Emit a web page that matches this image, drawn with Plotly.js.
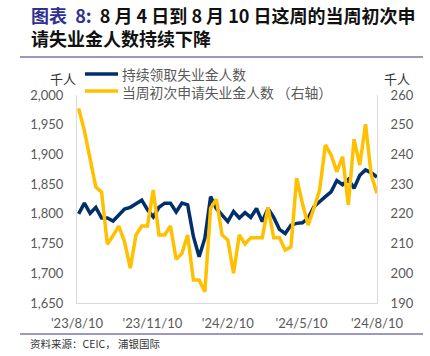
<!DOCTYPE html>
<html>
<head>
<meta charset="utf-8">
<script src="https://cdn.plot.ly/plotly-3.0.1.min.js"></script>
<style>
  html, body { margin: 0; padding: 0; background: #fff; }
  #chart { width: 430px; height: 356px; }
</style>
</head>
<body>
<div id="chart"></div>
<script>
// Week-ending dates
const dates = [
  '2023-08-12','2023-08-19','2023-08-26','2023-09-02','2023-09-09','2023-09-16','2023-09-23','2023-09-30',
  '2023-10-07','2023-10-14','2023-10-21','2023-10-28','2023-11-04','2023-11-11','2023-11-18','2023-11-25',
  '2023-12-02','2023-12-09','2023-12-16','2023-12-23','2023-12-30','2024-01-06','2024-01-13','2024-01-20',
  '2024-01-27','2024-02-03','2024-02-10','2024-02-17','2024-02-24','2024-03-02','2024-03-09','2024-03-16',
  '2024-03-23','2024-03-30','2024-04-06','2024-04-13','2024-04-20','2024-04-27','2024-05-04','2024-05-11',
  '2024-05-18','2024-05-25','2024-06-01','2024-06-08','2024-06-15','2024-06-22','2024-06-29','2024-07-06',
  '2024-07-13','2024-07-20','2024-07-27','2024-08-03','2024-08-10'
];

// 持续领取失业金人数 (千人, left axis)
const continuingClaims = [
  1800, 1818, 1801, 1811, 1793, 1793, 1788, 1798, 1808, 1811,
  1817, 1823, 1807, 1795, 1811, 1818, 1818, 1803, 1818, 1815,
  1762, 1728, 1759, 1829, 1809, 1798, 1787, 1804, 1793, 1802,
  1794, 1809, 1787, 1809, 1794, 1774, 1767, 1781, 1784, 1785,
  1793, 1812, 1821, 1829, 1837, 1856, 1849, 1858, 1843, 1865,
  1874, 1869, 1862
];

// 当周初次申请失业金人数 (千人, right axis)
const initialClaims = [
  255.5, 248, 238.5, 229, 227.3, 209.8, 212.7, 215.9, 210.6, 201.7,
  212.9, 215.9, 215.9, 228, 212.9, 212.9, 215.9, 204.7, 206.7, 212.9,
  197.7, 197.7, 193.8, 221.9, 224.9, 212.9, 211.2, 200, 212.9, 209.8,
  212, 212, 212, 222.2, 212, 212, 207.8, 208.9, 232, 223.5,
  216.2, 221.9, 228, 243.2, 239.8, 234.2, 239.2, 223, 245.1, 236.4,
  250.2, 233.1, 226.9
];

const xTickVals = ['2023-08-10','2023-11-10','2024-02-10','2024-05-10','2024-08-10'];
const xTickText = ["'23/8/10","'23/11/10","'24/2/10","'24/5/10","'24/8/10"];
const leftTicks = [1650, 1700, 1750, 1800, 1850, 1900, 1950, 2000];
const rightTicks = [190, 200, 210, 220, 230, 240, 250, 260];

const seriesNames = ['持续领取失业金人数', '当周初次申请失业金人数（右轴）'];
const BLUE = '#002F6C';
const YELLOW = '#FFC000';

// plot area in pixels
const L = 77, T = 95, W = 300, H = 208;
const px = x => (x - L) / W;
const py = y => (T + H - y) / H;

const tickFont = { family: 'Lato, "Noto Sans CJK SC", sans-serif', size: 13, color: '#595959' };

const traces = [
  { x: dates, y: continuingClaims, type: 'scatter', mode: 'lines', name: seriesNames[0],
    line: { color: BLUE, width: 3.5 }, yaxis: 'y', showlegend: false, hoverinfo: 'skip' },
  { x: dates, y: initialClaims, type: 'scatter', mode: 'lines', name: seriesNames[1],
    line: { color: YELLOW, width: 3.5 }, yaxis: 'y2', showlegend: false, hoverinfo: 'skip' }
];

const cjk = '"Noto Sans CJK SC", sans-serif';
const nb = '\u00A0';

const titleText = '<b><span style="color:#2E3192">图表' + nb + ' 8:</span>' + nb +
  ' 8 月 4 日到 8 月 10 日这周的当周初次申<br>请失业金人数持续下降</b>';

const annotations = [
  { text: titleText,
    x: px(29), y: py(26.5), xref: 'paper', yref: 'paper', xanchor: 'left', yanchor: 'middle', align: 'left',
    showarrow: false, font: { family: cjk, size: 18, color: '#111' } },
  { text: '千人', x: px(63), y: py(78), xref: 'paper', yref: 'paper', xanchor: 'center', yanchor: 'middle',
    showarrow: false, font: { family: cjk, size: 13, color: '#333' } },
  { text: '千人', x: px(397), y: py(78), xref: 'paper', yref: 'paper', xanchor: 'center', yanchor: 'middle',
    showarrow: false, font: { family: cjk, size: 13, color: '#333' } },
  { text: seriesNames[0] + '<br>' + '当周初次申请失业金人数 （右轴）',
    x: px(120), y: py(82.5), xref: 'paper', yref: 'paper', xanchor: 'left', yanchor: 'middle', align: 'left',
    showarrow: false, font: { family: cjk, size: 13.8, color: '#595959' } },
  { text: '资料来源：CEIC， 浦银国际', x: px(28), y: py(343.5), xref: 'paper', yref: 'paper', xanchor: 'left', yanchor: 'middle',
    showarrow: false, font: { family: cjk, size: 10.5, color: '#333' } }
];

const shapes = [
  { type: 'line', xref: 'paper', yref: 'paper', x0: px(20), x1: px(423), y0: py(57), y1: py(57),
    line: { color: '#7B76AE', width: 1.5 } },
  { type: 'line', xref: 'paper', yref: 'paper', x0: px(20), x1: px(423), y0: py(334), y1: py(334),
    line: { color: '#7B76AE', width: 1.5 } },
  { type: 'line', xref: 'paper', yref: 'paper', x0: px(85), x1: px(118), y0: py(74), y1: py(74),
    line: { color: BLUE, width: 3.5 } },
  { type: 'line', xref: 'paper', yref: 'paper', x0: px(85), x1: px(118), y0: py(91), y1: py(91),
    line: { color: YELLOW, width: 3.5 } }
];

const layout = {
  width: 430, height: 356,
  margin: { l: L, r: 430 - L - W, t: T, b: 356 - T - H, pad: 0 },
  paper_bgcolor: '#fff', plot_bgcolor: '#fff',
  showlegend: false,
  xaxis: {
    type: 'date', range: ['2023-08-10', '2024-08-10'],
    tickmode: 'array', tickvals: xTickVals, ticktext: xTickText,
    showgrid: false, zeroline: false, showline: true, linecolor: '#D9D9D9', linewidth: 1,
    ticks: '', tickfont: tickFont, ticklabelstandoff: 8
  },
  yaxis: {
    range: [1650, 2000], tickmode: 'array', tickvals: leftTicks,
    tickformat: ',d', showgrid: false, zeroline: false,
    showline: true, linecolor: '#D9D9D9', linewidth: 1,
    ticks: '', tickfont: tickFont, ticklabelstandoff: 10
  },
  yaxis2: {
    range: [190, 260], tickmode: 'array', tickvals: rightTicks,
    overlaying: 'y', side: 'right', showgrid: false, zeroline: false,
    showline: true, linecolor: '#D9D9D9', linewidth: 1,
    ticks: '', tickfont: tickFont, ticklabelstandoff: 10
  },
  annotations: annotations,
  shapes: shapes
};

Plotly.newPlot('chart', traces, layout, { staticPlot: true, displayModeBar: false });
</script>
</body>
</html>
